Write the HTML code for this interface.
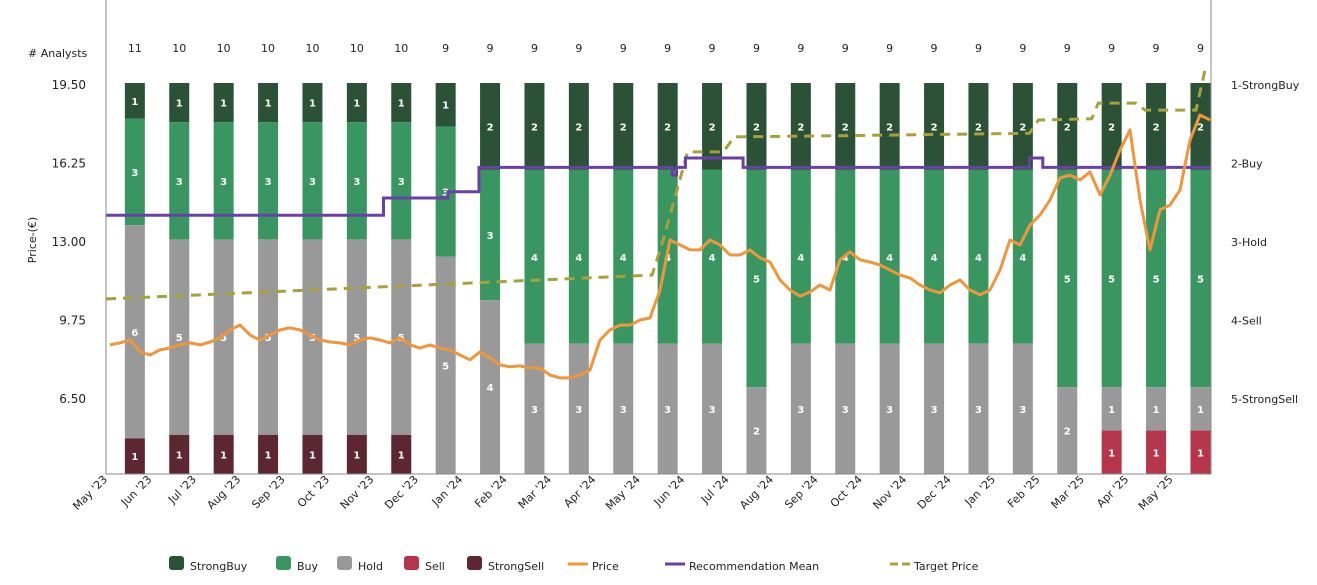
<!DOCTYPE html>
<html><head><meta charset="utf-8">
<style>
body{margin:0;background:#fff;font-family:"Liberation Sans","DejaVu Sans",sans-serif;}
svg text{font-family:"DejaVu Sans","Liberation Sans",sans-serif;}
</style></head>
<body>
<svg id="chart" width="1317" height="580" xmlns="http://www.w3.org/2000/svg">
<g id="bars"></g>
<g id="lines"></g>
<g id="axes"></g>
<g id="legend"></g>
</svg>
<script>
const months=["May '23","Jun '23","Jul '23","Aug '23","Sep '23","Oct '23","Nov '23","Dec '23","Jan '24","Feb '24","Mar '24","Apr '24","May '24","Jun '24","Jul '24","Aug '24","Sep '24","Oct '24","Nov '24","Dec '24","Jan '25","Feb '25","Mar '25","Apr '25","May '25"];
const strongBuy=[1,1,1,1,1,1,1,1,2,2,2,2,2,2,2,2,2,2,2,2,2,2,2,2,2];
const buy=[3,3,3,3,3,3,3,3,3,4,4,4,4,4,5,4,4,4,4,4,4,5,5,5,5];
const hold=[6,5,5,5,5,5,5,5,4,3,3,3,3,3,2,3,3,3,3,3,3,2,1,1,1];
const sell=[0,0,0,0,0,0,0,0,0,0,0,0,0,0,0,0,0,0,0,0,0,0,1,1,1];
const strongSell=[1,1,1,1,1,1,1,0,0,0,0,0,0,0,0,0,0,0,0,0,0,0,0,0,0];
const priceTicks=[19.50,16.25,13.00,9.75,6.50];
const ratingLabels=["1-StrongBuy","2-Buy","3-Hold","4-Sell","5-StrongSell"];
const prices=[8.74,8.82,8.94,8.45,8.32,8.53,8.61,8.74,8.82,8.74,8.86,9.03,9.36,9.56,9.15,8.94,9.15,9.36,9.44,9.36,9.15,8.94,8.86,8.82,8.74,8.94,9.03,8.94,8.82,9.03,8.74,8.61,8.74,8.61,8.53,8.32,8.12,8.45,8.2,7.91,7.83,7.87,7.78,7.78,7.49,7.37,7.37,7.49,7.70,8.94,9.36,9.56,9.56,9.77,9.85,11.01,13.08,12.88,12.67,12.67,13.08,12.88,12.46,12.46,12.67,12.34,12.17,11.43,11.01,10.76,10.93,11.22,11.01,12.26,12.59,12.26,12.17,12.05,11.84,11.63,11.51,11.22,11.01,10.89,11.22,11.43,11.01,10.81,11.01,11.84,13.08,12.88,13.7,14.12,14.74,15.65,15.77,15.57,15.9,14.95,15.77,16.81,17.64,14.74,12.67,14.33,14.53,15.15,17.22,18.26,18.05];
const recTimes=[0,6.25,7.7,8.4,8.5,12.75,12.85,13.05,14.35,20.8,21.1,24.89];
const recValues=[2.66,2.44,2.36,2.05,2.05,2.15,2.05,1.93,2.05,1.93,2.05,2.05];
const tgtTimes=[0,8.2,12.3,12.55,13.1,13.9,14.15,16.5,20.8,21.0,22.2,22.35,23.2,23.4,24.55,24.75,24.89];
const tgtValues=[10.64,11.3,11.63,13.08,16.73,16.73,17.35,17.4,17.5,18.05,18.1,18.75,18.75,18.46,18.46,20.1,20.1];

const NS="http://www.w3.org/2000/svg";
function mk(parent,tag,attrs,text){const e=document.createElementNS(NS,tag);for(const k in attrs)e.setAttribute(k,attrs[k]);if(text!==undefined)e.textContent=text;parent.appendChild(e);return e;}
const X0=106,X1=1211,YB=474,YT=83;
const xM=m=>X0+m*44.4;
const yP=p=>85+(19.5-p)*24.15;
const yR=r=>85+(r-1)*78.5;
const bars=document.getElementById('bars'),lines=document.getElementById('lines'),axes=document.getElementById('axes'),legend=document.getElementById('legend');
const cols=["#2b5237","#3a9660","#999999","#b5364b","#5c2730"];
const series=[strongBuy,buy,hold,sell,strongSell];
const segNames=['strongbuy','buy','hold','sell','strongsell'];
months.forEach((m,i)=>{
  const tot=strongBuy[i]+buy[i]+hold[i]+sell[i]+strongSell[i];
  const cx=xM(i+0.65);
  let y=YT;
  series.forEach((s,k)=>{
    const v=s[i]; if(!v)return;
    const h=v/tot*(YB-YT);
    const r=mk(bars,'rect',{x:cx-10,y:y,width:20,height:h,fill:cols[k]});
    
    
    const t=mk(bars,'text',{x:cx,y:y+h/2+4,'text-anchor':'middle','font-size':10,'font-weight':'bold',fill:'#fff'},v);
    
    
    y+=h;
  });
  const c=mk(axes,'text',{x:cx,y:52,'text-anchor':'middle','font-size':11,fill:'#222'},tot);
  
  
  const tx=xM(i)+2,ty=YB+6;
  const lab=mk(axes,'text',{x:tx,y:ty,'text-anchor':'end','font-size':11,fill:'#222',transform:`rotate(-45 ${tx} ${ty})`},m);
  
  
});
let d='';
tgtTimes.forEach((t,i)=>{d+=(i?'L':'M')+xM(t).toFixed(1)+','+yP(tgtValues[i]).toFixed(1);});
const tg=mk(lines,'path',{d:d,fill:'none',stroke:'#a8a038','stroke-width':3,'stroke-dasharray':'10,7'});


d='';
recTimes.forEach((t,i)=>{const x=xM(t).toFixed(1),y=yR(recValues[i]).toFixed(1);if(i===0)d+='M'+x+','+y;else{d+='L'+x+','+yR(recValues[i-1]).toFixed(1)+'L'+x+','+y;}});
const rm=mk(lines,'path',{d:d,fill:'none',stroke:'#6a3fa8','stroke-width':3});


d='';
prices.forEach((p,i)=>{const t=(4+10*i)/44.4;d+=(i?'L':'M')+xM(t).toFixed(1)+','+yP(p).toFixed(1);});
const pl=mk(lines,'path',{d:d,fill:'none',stroke:'#f0963a','stroke-width':3,'stroke-linejoin':'round'});


const fr=mk(axes,'path',{d:`M${X0},0V${YB}H${X1}V0`,fill:'none',stroke:'#888','stroke-width':1});


priceTicks.forEach(p=>{
  const t=mk(axes,'text',{x:86,y:yP(p)+4,'text-anchor':'end','font-size':12,fill:'#222'},p.toFixed(2));
  
  
});
ratingLabels.forEach((l,i)=>{
  const t=mk(axes,'text',{x:1231,y:yR(i+1)+4,'font-size':11,fill:'#222'},l);
  
  
});
const an=mk(axes,'text',{x:28,y:57,'font-size':11,fill:'#222'},'# Analysts');


const yt=mk(axes,'text',{x:36,y:240,'text-anchor':'middle','font-size':11,fill:'#222',transform:'rotate(-90 36 240)'},'Price-(€)');


const legItems=[["StrongBuy",169,'sq',cols[0]],["Buy",276,'sq',cols[1]],["Hold",337,'sq',cols[2]],["Sell",404,'sq',cols[3]],["StrongSell",467,'sq',cols[4]],["Price",568,'ln','#f0963a'],["Recommendation Mean",665,'ln','#6a3fa8'],["Target Price",890,'dash','#a8a038']];
legItems.forEach(([n,x,type,c])=>{
  const g=mk(legend,'g',{});
  
  
  let tx;
  if(type==='sq'){mk(g,'rect',{x:x,y:556,width:15,height:14,rx:3,fill:c});tx=x+21;}
  else{mk(g,'line',{x1:x,y1:564,x2:x+20,y2:564,stroke:c,'stroke-width':3,'stroke-dasharray':type==='dash'?'8,4':'none'});tx=x+24;}
  mk(g,'text',{x:tx,y:570,'font-size':11,fill:'#222'},n);
});
</script>
</body></html>
